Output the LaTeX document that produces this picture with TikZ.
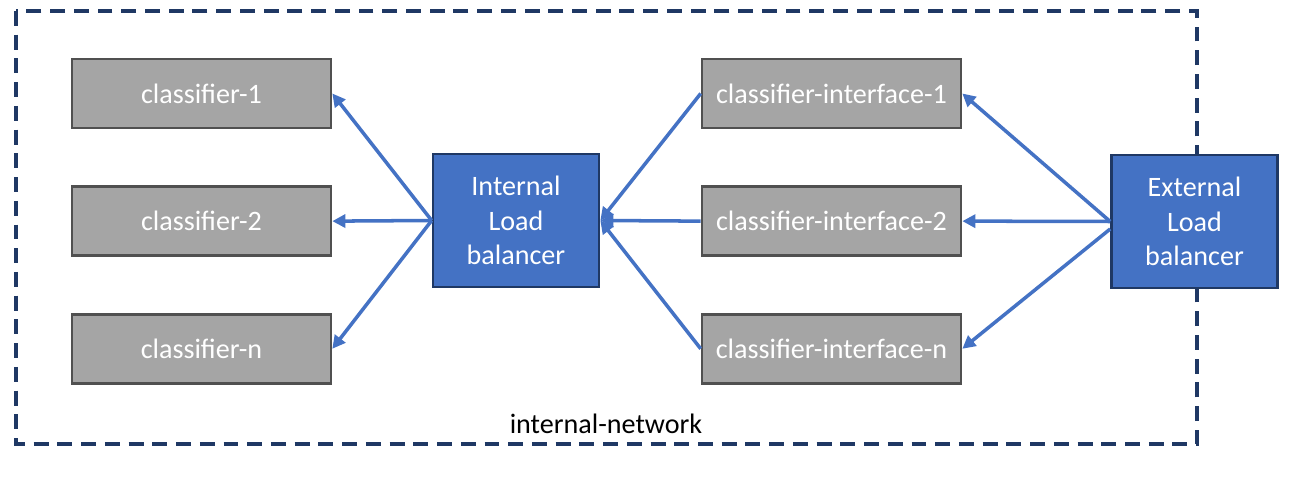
\documentclass[tikz,border=0pt]{standalone}
\usepackage{fontspec}
\setmainfont{Carlito}
\usetikzlibrary{arrows.meta,positioning}
\definecolor{netline}{HTML}{1F3864}
\definecolor{grfill}{HTML}{A5A5A5}
\definecolor{grline}{HTML}{505050}
\definecolor{lbfill}{HTML}{4472C4}
\definecolor{lbline}{HTML}{1F3864}
\definecolor{arrblue}{HTML}{4472C4}
\tikzset{
  grbox/.style={draw=grline, line width=1.5pt, fill=grfill, minimum width=5.18cm,
                minimum height=1.38cm, inner sep=0pt, text=white, font=\fontsize{16}{19.5}\selectfont},
  lbbox/.style={draw=lbline, line width=1.5pt, fill=lbfill, minimum width=3.32cm,
                minimum height=2.66cm, inner sep=0pt, align=center, text=white,
                font=\fontsize{16}{19.5}\selectfont},
  netbox/.style={draw=netline, line width=2.2pt, dash pattern=on 8.5pt off 5pt},
  arr/.style={-{Triangle[length=2.6mm, width=2.6mm]}, line width=2pt, color=arrblue}}

\begin{document}
\begin{tikzpicture}
    \useasboundingbox (0,0) rectangle (26.02,-9.68);
    \draw[netbox] (0.32,-0.22) rectangle (23.94,-8.88);
    \node[font=\fontsize{16}{19.5}\selectfont] (net) at (12.12,-8.47) {internal-network};
    \node[grbox] (c1) at (4.03,-1.87) {classifier-1};
    \node[grbox, below=1.12cm of c1] (c2) {classifier-2};
    \node[grbox, below=1.12cm of c2] (cn) {classifier-n};
    \node[grbox] (ci1) at (16.63,-1.87) {classifier-interface-1};
    \node[grbox, below=1.12cm of ci1] (ci2) {classifier-interface-2};
    \node[grbox, below=1.12cm of ci2] (cin) {classifier-interface-n};
    \node[lbbox] (ilb) at (10.32,-4.41) {Internal\\Load\\balancer};
    \node[lbbox] (elb) at (23.89,-4.43) {External\\Load\\balancer};
    \draw[arr] (ilb.west) -- (c1.east);
    \draw[arr] (ilb.west) -- (c2.east);
    \draw[arr] (ilb.west) -- (cn.east);
    \draw[arr] (ci1.west) -- (ilb.east);
    \draw[arr] (ci2.west) -- (ilb.east);
    \draw[arr] (cin.west) -- (ilb.east);
    \draw[arr] (elb.west) -- (ci1.east);
    \draw[arr] (elb.west) -- (ci2.east);
    \draw[arr] ([yshift=-0.15cm]elb.west) -- (cin.east);
  \end{tikzpicture}
\end{document}
